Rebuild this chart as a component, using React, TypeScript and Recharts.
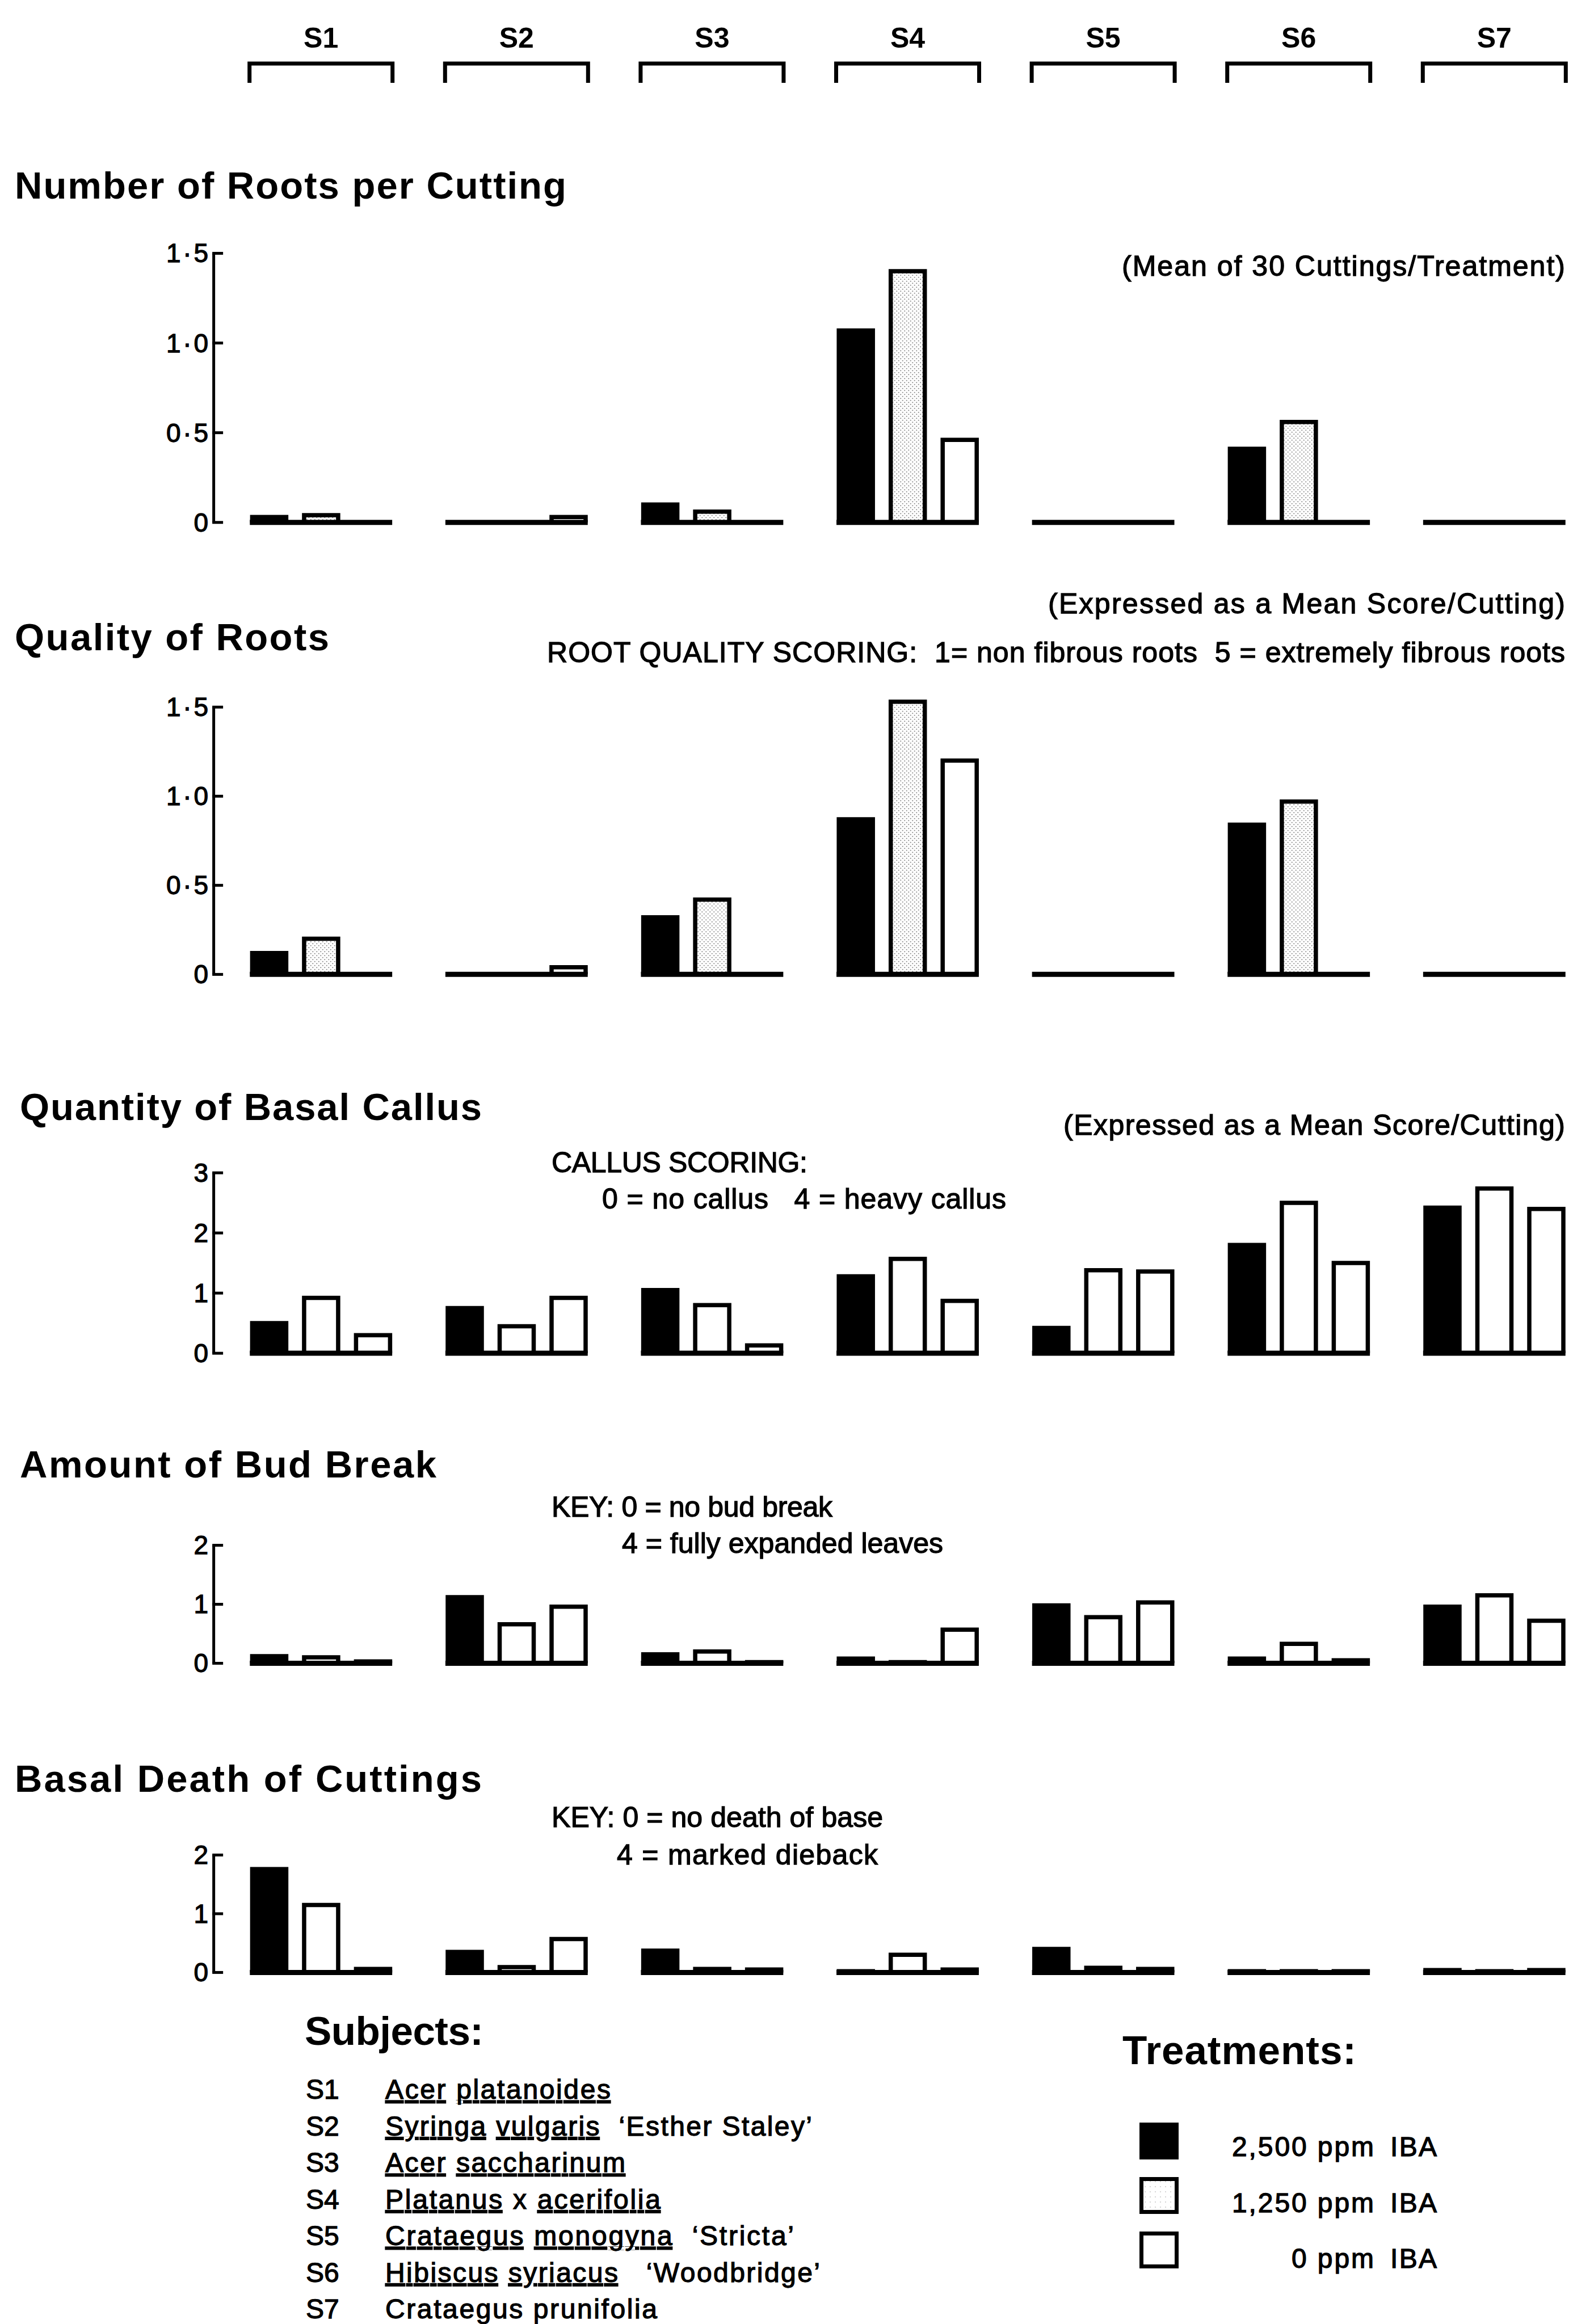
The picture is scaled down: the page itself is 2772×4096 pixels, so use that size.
import React from "react";
import { BarChart, Bar, XAxis, YAxis, ReferenceLine } from "recharts";

const subjects = ["S1", "S2", "S3", "S4", "S5", "S6", "S7"];

// Number of roots per cutting (2,500 / 1,250 / 0 ppm IBA)
const rootsHigh = [0.03, 0, 0.1, 1.07, 0, 0.41, 0];
const rootsMid = [0.04, 0, 0.06, 1.4, 0, 0.56, 0];
const rootsZero = [0, 0.03, 0, 0.46, 0, 0, 0];

// Quality of roots
const qualityHigh = [0.12, 0, 0.32, 0.87, 0, 0.84, 0];
const qualityMid = [0.2, 0, 0.42, 1.53, 0, 0.97, 0];
const qualityZero = [0, 0.04, 0, 1.2, 0, 0, 0];

// Quantity of basal callus
const callusHigh = [0.5, 0.75, 1.05, 1.28, 0.42, 1.8, 2.42];
const callusMid = [0.92, 0.45, 0.8, 1.57, 1.38, 2.5, 2.74];
const callusZero = [0.3, 0.92, 0.13, 0.87, 1.36, 1.5, 2.4];

// Amount of bud break
const budHigh = [0.12, 1.12, 0.15, 0.08, 0.98, 0.08, 0.96];
const budMid = [0.1, 0.66, 0.2, 0.02, 0.78, 0.33, 1.15];
const budZero = [0.03, 0.96, 0.02, 0.57, 1.03, 0.05, 0.72];

// Basal death of cuttings
const deathHigh = [1.76, 0.35, 0.37, 0.02, 0.4, 0.02, 0.04];
const deathMid = [1.15, 0.09, 0.06, 0.3, 0.08, 0.02, 0.02];
const deathZero = [0.06, 0.57, 0.05, 0.05, 0.06, 0.02, 0.04];

const ticksHalf = [0, 0.5, 1, 1.5];
const ticksThree = [0, 1, 2, 3];
const ticksTwo = [0, 1, 2];

const treatments = ["2,500 ppm", "1,250 ppm", "0 ppm"];

// each name: [text, underlined?]
const subjectNames: [string, boolean][][] = [
  [["Acer", true], [" ", false], ["platanoides", true]],
  [["Syringa", true], [" ", false], ["vulgaris", true], ["  \u2018Esther Staley\u2019", false]],
  [["Acer", true], [" ", false], ["saccharinum", true]],
  [["Platanus", true], [" x ", false], ["acerifolia", true]],
  [["Crataegus", true], [" ", false], ["monogyna", true], ["  \u2018Stricta\u2019", false]],
  [["Hibiscus", true], [" ", false], ["syriacus", true], ["   \u2018Woodbridge\u2019", false]],
  [["Crataegus prunifolia", false]],
];
const subjectWidths = [397, 752, 423, 485, 720, 766, 479];

const W = 2772;
const H = 4096;
const AXIS_X = 376.6;
const FIRST = 565.7;
const PITCH = 344.6;
const RIGHT_M = 10;
const LO = 1 - (FIRST - AXIS_X) / PITCH;
const HI = 1 + (W - RIGHT_M - FIRST) / PITCH;
const HALF = 0.364;
const FONT = "'Liberation Sans', Arial, Helvetica, sans-serif";
const STROKE = 7.5;
const HEAD = 1.06; // headroom above the top tick
const MED = { stroke: "#000", strokeWidth: 1.3 };

function YTick(props: any) {
  const { y, payload, dec } = props;
  const v = payload.value as number;
  const label = dec ? (v === 0 ? "0" : v.toFixed(1).replace(".", "\u00b7")) : String(v);
  return (
    <g>
      <line x1={AXIS_X} x2={AXIS_X + 14} y1={y} y2={y} stroke="#000" strokeWidth={5} strokeLinecap="square" />
      <text
        x={367}
        y={y + 16}
        textAnchor="end"
        fontSize={46}
        fontFamily={FONT}
        fill="#000"
        {...MED}
        textLength={label.length > 1 ? 74 : undefined}
        lengthAdjust="spacing"
      >
        {label}
      </text>
    </g>
  );
}

interface PanelProps {
  yTop: number;
  yZero: number;
  max: number;
  ticks: number[];
  dec: boolean;
  high: number[];
  mid: number[];
  zero: number[];
  midFill: string;
}

function Panel({ yTop, yZero, max, ticks, dec, high, mid, zero, midFill }: PanelProps) {
  const PAD = 50;
  const top = max * HEAD;
  const plotTop = yZero - (yZero - yTop) * HEAD;
  const data = subjects.map((s, i) => ({ s, pos: i + 1, high: high[i], mid: mid[i], zero: zero[i] }));
  return (
    <div style={{ position: "absolute", left: 0, top: plotTop - PAD }}>
      <BarChart
        width={W}
        height={yZero - plotTop + 2 * PAD}
        data={data}
        margin={{ top: PAD, bottom: PAD, left: 0, right: RIGHT_M }}
        barSize={60}
        barGap={31.5}
      >
        <XAxis type="number" dataKey="pos" domain={[LO, HI]} hide allowDataOverflow height={0} />
        <YAxis
          width={AXIS_X}
          domain={[0, top]}
          ticks={ticks}
          interval={0}
          tickLine={false}
          axisLine={false}
          tick={<YTick dec={dec} />}
          allowDataOverflow
        />
        <Bar dataKey="high" fill="#000" stroke="#000" strokeWidth={STROKE} isAnimationActive={false} />
        <Bar dataKey="mid" fill={midFill} stroke="#000" strokeWidth={STROKE} isAnimationActive={false} />
        <Bar dataKey="zero" fill="#fff" stroke="#000" strokeWidth={STROKE} isAnimationActive={false} />
        <ReferenceLine
          segment={[
            { x: LO + 1e-6, y: 0 },
            { x: LO + 1e-6, y: max },
          ]}
          stroke="#000"
          strokeWidth={5}
        />
        {data.map((d) => (
          <ReferenceLine
            key={d.s}
            segment={[
              { x: d.pos - HALF, y: 0 },
              { x: d.pos + HALF, y: 0 },
            ]}
            stroke="#000"
            strokeWidth={9}
          />
        ))}
      </BarChart>
    </div>
  );
}

function T({ x, y, w, size, bold, anchor, children }: any) {
  return (
    <text
      x={x}
      y={y}
      fontSize={size}
      fontWeight={bold ? 700 : 400}
      textLength={w}
      lengthAdjust="spacing"
      textAnchor={anchor || "start"}
      style={{ whiteSpace: "pre" }}
      {...(bold ? {} : MED)}
    >
      {children}
    </text>
  );
}

export default function App() {
  return (
    <div style={{ position: "absolute", left: 0, top: 0, width: W, height: H, overflow: "hidden", background: "#fff" }}>
      <Panel yTop={446.5} yZero={920.8} max={1.5} ticks={ticksHalf} dec high={rootsHigh} mid={rootsMid} zero={rootsZero} midFill="url(#stip)" />
      <Panel yTop={1246.6} yZero={1717.7} max={1.5} ticks={ticksHalf} dec high={qualityHigh} mid={qualityMid} zero={qualityZero} midFill="url(#stip)" />
      <Panel yTop={2067} yZero={2385} max={3} ticks={ticksThree} dec={false} high={callusHigh} mid={callusMid} zero={callusZero} midFill="#fff" />
      <Panel yTop={2723} yZero={2931} max={2} ticks={ticksTwo} dec={false} high={budHigh} mid={budMid} zero={budZero} midFill="#fff" />
      <Panel yTop={3269} yZero={3476} max={2} ticks={ticksTwo} dec={false} high={deathHigh} mid={deathMid} zero={deathZero} midFill="#fff" />

      <svg
        width={W}
        height={H}
        style={{ position: "absolute", left: 0, top: 0, pointerEvents: "none" }}
        fontFamily={FONT}
        fill="#000"
      >
        <defs>
          <pattern id="stip" width={7} height={7} patternUnits="userSpaceOnUse">
            <rect width={7} height={7} fill="#fff" />
            <circle cx={1.75} cy={1.75} r={1.1} fill="#8a8a8a" />
            <circle cx={5.25} cy={5.25} r={1.1} fill="#8a8a8a" />
          </pattern>
          <pattern id="stipLight" width={9} height={9} patternUnits="userSpaceOnUse">
            <rect width={9} height={9} fill="#fff" />
            <circle cx={2} cy={2} r={1} fill="#c8c8c8" />
          </pattern>
        </defs>

        {/* subject header brackets */}
        {subjects.map((s, i) => {
          const cx = FIRST + i * PITCH;
          return (
            <g key={s}>
              <text x={cx} y={84} fontSize={50} fontWeight={700} textAnchor="middle">
                {s}
              </text>
              <path d={`M${cx - 126},146 V112 H${cx + 126} V146`} stroke="#000" strokeWidth={7} fill="none" />
            </g>
          );
        })}

        {/* panel titles */}
        <T x={26} y={350} w={972} size={67} bold>Number of Roots per Cutting</T>
        <T x={26} y={1146} w={554} size={67} bold>Quality of Roots</T>
        <T x={35} y={1974} w={814} size={67} bold>Quantity of Basal Callus</T>
        <T x={35} y={2604} w={734} size={67} bold>Amount of Bud Break</T>
        <T x={26} y={3158} w={823} size={67} bold>Basal Death of Cuttings</T>

        {/* annotations */}
        <T x={1977} y={486} w={781} size={50}>(Mean of 30 Cuttings/Treatment)</T>
        <T x={1847} y={1081} w={911} size={50}>(Expressed as a Mean Score/Cutting)</T>
        <T x={964} y={1167} w={1794} size={50}>{"ROOT QUALITY SCORING:  1= non fibrous roots  5 = extremely fibrous roots"}</T>
        <T x={1874} y={2000} w={884} size={50}>(Expressed as a Mean Score/Cutting)</T>
        <T x={972} y={2066} w={451} size={50}>CALLUS SCORING:</T>
        <T x={1061} y={2130} w={712} size={50}>{"0 = no callus   4 = heavy callus"}</T>
        <T x={972} y={2673} w={495} size={50}>KEY: 0 = no bud break</T>
        <T x={1096} y={2737} w={566} size={50}>4 = fully expanded leaves</T>
        <T x={972} y={3220} w={584} size={50}>KEY: 0 = no death of base</T>
        <T x={1087} y={3286} w={460} size={50}>4 = marked dieback</T>

        {/* subjects list */}
        <T x={537} y={3604} w={315} size={71} bold>Subjects:</T>
        {subjects.map((s, i) => {
          const y = 3699 + i * 64.5;
          return (
            <g key={s}>
              <text x={539} y={y} fontSize={48} {...MED}>{s}</text>
              <text
                x={679}
                y={y}
                fontSize={48}
                {...MED}
                textLength={subjectWidths[i]}
                lengthAdjust="spacing"
                style={{ whiteSpace: "pre" }}
              >
                {subjectNames[i].map(([t, u], j) => (
                  <tspan key={j} style={u ? { textDecoration: "underline" } : undefined}>
                    {t}
                  </tspan>
                ))}
              </text>
            </g>
          );
        })}

        {/* treatments legend */}
        <T x={1978} y={3638} w={412} size={71} bold>Treatments:</T>
        {treatments.map((t, i) => {
          const top = 3741 + i * 96;
          const fill = i === 0 ? "#000" : i === 1 ? "url(#stipLight)" : "#fff";
          const y = 3800 + i * 98.5;
          return (
            <g key={t}>
              <rect x={2011.5} y={top + 3.5} width={62} height={58} fill={fill} stroke="#000" strokeWidth={7} />
              <text x={2421} y={y} fontSize={48} {...MED} textAnchor="end" textLength={i === 2 ? 145 : 250} lengthAdjust="spacing">
                {t}
              </text>
              <text x={2532} y={y} fontSize={48} {...MED} textAnchor="end" textLength={82} lengthAdjust="spacing">
                IBA
              </text>
            </g>
          );
        })}
      </svg>
    </div>
  );
}
